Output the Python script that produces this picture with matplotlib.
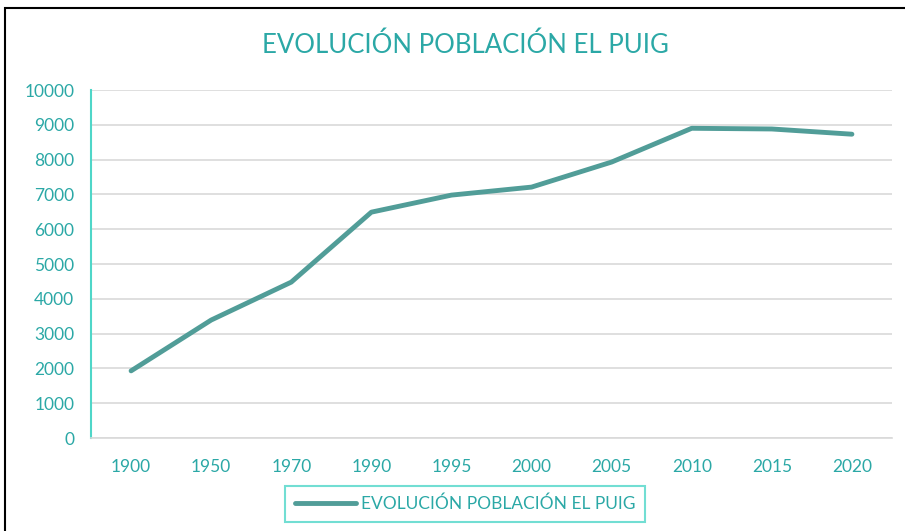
import matplotlib.pyplot as plt
from matplotlib.patches import Rectangle

anios = ["1900", "1950", "1970", "1990", "1995", "2000", "2005", "2010", "2015", "2020"]
poblacion = [1930, 3390, 4480, 6490, 6980, 7210, 7930, 8900, 8880, 8730]

color_titulo = "#2BA8A6"
color_linea = "#519D98"
color_eje = "#4FD6C8"
color_grid = "#D9D9D9"

plt.rcParams["font.family"] = ["Lato", "DejaVu Sans"]

fig = plt.figure(figsize=(9.05, 5.31), dpi=100)
ax = fig.add_axes([0.1006, 0.1751, 0.885, 0.6554])

x = list(range(len(anios)))
ax.plot(x, poblacion, color=color_linea, linewidth=3.5, solid_capstyle="round",
        label="EVOLUCIÓN POBLACIÓN EL PUIG")

ax.set_xlim(-0.5, len(anios) - 0.5)
ax.set_ylim(0, 10000)
ax.set_yticks(range(0, 10001, 1000))
ax.set_xticks(x)
ax.set_xticklabels(anios)
ax.grid(axis="y", color=color_grid, linewidth=1.2)
ax.set_axisbelow(True)

for lado in ["top", "right"]:
    ax.spines[lado].set_visible(False)
ax.spines["bottom"].set_color(color_grid)
ax.spines["bottom"].set_linewidth(1.2)
ax.spines["left"].set_color(color_eje)
ax.spines["left"].set_linewidth(1.5)

ax.tick_params(axis="both", length=0, labelsize=12.5, labelcolor=color_titulo)
ax.tick_params(axis="x", pad=15)
ax.tick_params(axis="y", pad=12)

fig.text(0.514, 0.915, "EVOLUCIÓN POBLACIÓN EL PUIG", ha="center", va="center",
         fontsize=18.5, color=color_titulo)

leg = ax.legend(loc="center", bbox_to_anchor=(0.467, -0.19), frameon=True,
                fancybox=False, fontsize=12.5, handlelength=3.5, handletextpad=0.3,
                borderpad=0.55, borderaxespad=0)
leg.get_frame().set_edgecolor(color_eje)
leg.get_frame().set_linewidth(1.5)
for t in leg.get_texts():
    t.set_color(color_titulo)

# marco exterior
fig.patches.append(Rectangle((0.0055, -0.05), 1.1, 1.035, transform=fig.transFigure,
                             fill=False, edgecolor="black", linewidth=1.5))

fig.savefig("out.png", dpi=100)
